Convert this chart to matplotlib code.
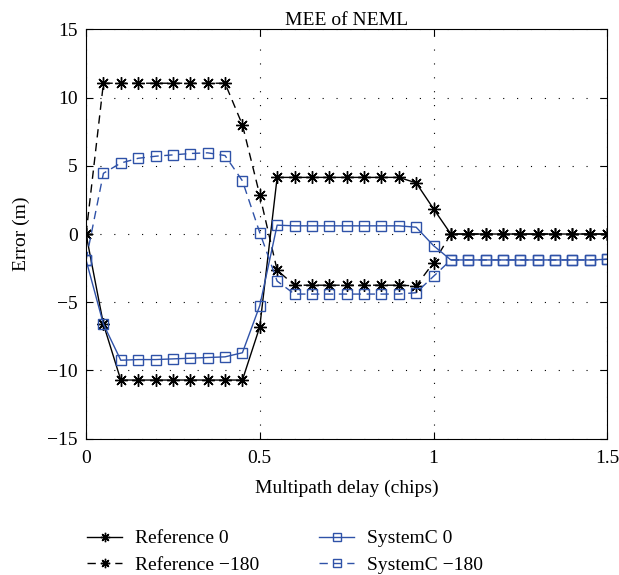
import numpy as np
import matplotlib
matplotlib.use("Agg")
import matplotlib.pyplot as plt

plt.rcParams['font.family'] = ['Liberation Serif', 'DejaVu Serif']

# multipath delay grid (chips)
delay = np.round(np.arange(0, 1.5001, 0.05), 2)

ref_0 = [0, -6.6, -10.7, -10.7, -10.7, -10.7, -10.7, -10.7, -10.7, -10.7,
         -6.8, 4.15, 4.15, 4.15, 4.15, 4.15, 4.15, 4.15, 4.15, 3.75,
         1.85, 0, 0, 0, 0, 0, 0, 0, 0, 0, 0]
ref_180 = [0, 11.05, 11.05, 11.05, 11.05, 11.05, 11.05, 11.05, 11.05, 8.0,
           2.85, -2.65, -3.75, -3.75, -3.75, -3.75, -3.75, -3.75, -3.75, -3.8,
           -2.1, 0, 0, 0, 0, 0, 0, 0, 0, 0, 0]
sysc_0 = [-1.9, -6.6, -9.25, -9.2, -9.2, -9.15, -9.1, -9.05, -9.0, -8.7,
          -5.25, 0.65, 0.6, 0.6, 0.6, 0.6, 0.6, 0.6, 0.6, 0.5,
          -0.85, -1.9, -1.9, -1.9, -1.9, -1.9, -1.9, -1.9, -1.9, -1.9, -1.85]
sysc_180 = [-1.9, 4.45, 5.2, 5.55, 5.7, 5.8, 5.9, 5.95, 5.75, 3.9,
            0.1, -3.45, -4.4, -4.4, -4.4, -4.4, -4.4, -4.4, -4.4, -4.3,
            -3.1, -1.9, -1.9, -1.9, -1.9, -1.9, -1.9, -1.9, -1.9, -1.9, -1.85]

blue = '#2f52a8'
star = (8, 2, 0)
dash = (0, (6, 4))

fig = plt.figure(figsize=(6.19, 5.75), dpi=100)
ax = fig.add_axes([0.139, 0.237, 0.842, 0.712])

ax.plot(delay, ref_0, color='black', lw=1.0, marker=star, ms=9, mew=1.0,
        label='Reference 0')
ax.plot(delay, ref_180, color='black', lw=1.0, ls=dash, marker=star, ms=9, mew=1.0,
        label='Reference \u2212180')
ax.plot(delay, sysc_0, color=blue, lw=1.0, marker='s', ms=7, mfc='none', mew=1.0,
        label='SystemC 0')
ax.plot(delay, sysc_180, color=blue, lw=1.0, ls=dash, marker='s', ms=7, mfc='none',
        mew=1.0, label='SystemC \u2212180')

ax.set_xlim(0, 1.5)
ax.set_ylim(-15, 15)
ax.set_xticks([0, 0.5, 1, 1.5])
ax.set_xticklabels(['0', '0.5', '1', '1.5'])
ax.set_yticks([-15, -10, -5, 0, 5, 10, 15])
ax.set_yticklabels(['\u221215', '\u221210', '\u22125', '0', '5', '10', '15'])
ax.tick_params(direction='in', labelsize=14, length=5, top=True, right=True)
ax.tick_params(axis='x', pad=8)
ax.tick_params(axis='y', pad=6)
ax.grid(True, color='black', ls=(0, (1, 11.5)), lw=0.8)

ax.set_title('MEE of NEML', fontsize=14, pad=3)
ax.set_xlabel('Multipath delay (chips)', fontsize=14, labelpad=9)
ax.set_ylabel('Error (m)', fontsize=14, labelpad=12)

fig.legend(loc='lower left', bbox_to_anchor=(0.122, -0.018), ncol=2, frameon=False,
           fontsize=14, handlelength=1.8, handletextpad=0.65, columnspacing=3.1,
           labelspacing=0.45, markerscale=0.75, borderaxespad=0.2)

fig.savefig('out.png', dpi=100)
